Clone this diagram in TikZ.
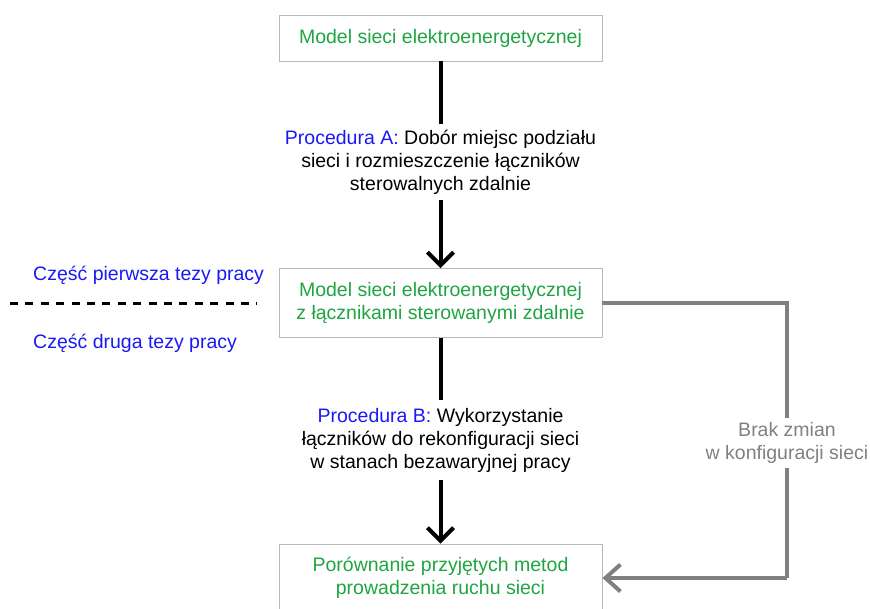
\documentclass[tikz,border=0pt]{standalone}
\usepackage{fontspec}
\setmainfont{Liberation Sans}
\usetikzlibrary{arrows.meta,positioning}
\definecolor{boxgreen}{RGB}{30,165,65}
\definecolor{lblblue}{RGB}{25,25,245}
\definecolor{linegray}{RGB}{128,128,128}
\definecolor{boxborder}{RGB}{185,185,185}
\tikzset{
  box/.style={draw=boxborder, line width=0.9pt, minimum width=323pt, align=center,
    text=boxgreen, inner sep=0pt, font=\fontsize{19.5}{23}\selectfont},
  lbl/.style={align=center, inner sep=0pt, font=\fontsize{19.5}{23}\selectfont},
  blackarrow/.style={line width=4pt, -{Straight Barb[length=13pt,width=26pt,line width=4pt]}},
  blackline/.style={line width=4pt},
  grayline/.style={line width=4pt, draw=linegray},
  grayarrow/.style={line width=4pt, draw=linegray, -{Straight Barb[length=15pt,width=27pt,line width=4pt]}},
  sidetext/.style={anchor=west, inner sep=0pt, text=lblblue, font=\fontsize{19.5}{23}\selectfont},
}
\begin{document}
\begin{tikzpicture}[x=1pt,y=-1pt]
\useasboundingbox (0,0) rectangle (870,608);
\node[box, minimum height=46pt] (m1) at (440.5,38) {Model sieci elektroenergetycznej};
\node[box, minimum height=69pt] (m2) at (440.5,303) {Model sieci elektroenergetycznej\\z łącznikami sterowanymi zdalnie};
\node[box, minimum height=68pt] (m3) at (440.5,578) {Porównanie przyjętych metod\\prowadzenia ruchu sieci};

\node[lbl, minimum height=76pt] (pa) at (440.5,162) {\textcolor{lblblue}{Procedura A:} Dobór miejsc podziału\\sieci i rozmieszczenie łączników\\sterowalnych zdalnie};
\node[lbl, minimum height=80pt] (pb) at (440.5,440) {\textcolor{lblblue}{Procedura B:} Wykorzystanie\\łączników do rekonfiguracji sieci\\w stanach bezawaryjnej pracy};
\node[lbl, text=linegray, minimum height=50pt] (bz) at (787,443) {Brak zmian\\w konfiguracji sieci};

\draw[blackline] (m1.south) -- (pa.north);
\draw[blackarrow] (pa.south) -- (m2.north);
\draw[blackline] (m2.south) -- (pb.north);
\draw[blackarrow] (pb.south) -- (m3.north);

\draw[grayline] (m2.east) -| (bz.north);
\coordinate (gc) at (bz.south |- m3.east);
\draw[grayline] (bz.south) -- (gc);
\draw[grayarrow] (gc) -- (m3.east);

\node[sidetext] (p1) at (33,275) {Część pierwsza tezy pracy};
\node[sidetext] (p2) at (33,343) {Część druga tezy pracy};
\coordinate (d1) at (10,303);
\coordinate (d2) at (257,303);
\draw[line width=3pt, dash pattern=on 8pt off 7.4pt] (d1) -- (d2);
\end{tikzpicture}
\end{document}
